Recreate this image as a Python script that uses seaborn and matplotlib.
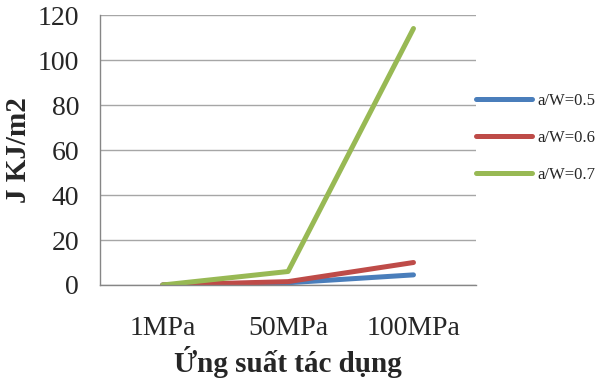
import numpy as np
import pandas as pd
import matplotlib
matplotlib.use('Agg')
import matplotlib.pyplot as plt
import seaborn as sns
from matplotlib.lines import Line2D

# data
categories = ['1MPa', '50MPa', '100MPa']
series_names = ['a/W=0.5', 'a/W=0.6', 'a/W=0.7']
aw05 = [0.0, 1.0, 4.5]
aw06 = [0.0, 1.5, 10.0]
aw07 = [0.0, 6.0, 114.0]
colors = ['#4a7ebb', '#be4b48', '#98b954']

rows = []
for name, vals in zip(series_names, [aw05, aw06, aw07]):
    for i, v in enumerate(vals):
        rows.append({'pos': i, 'J': v, 'series': name})
df = pd.DataFrame(rows)

sns.set_style('white')
plt.rcParams['font.family'] = ['Liberation Serif', 'DejaVu Serif']

fig = plt.figure(figsize=(6.02, 3.8), dpi=100)
ax = fig.add_axes([0.166, 0.25, 0.625, 0.7105])

sns.lineplot(data=df, x='pos', y='J', hue='series', hue_order=series_names,
             palette=colors, linewidth=3.6, ax=ax, legend=False,
             solid_capstyle='round')

ax.set_xlim(-0.5, 2.5)
ax.set_ylim(0, 120)
ax.set_yticks(np.arange(0, 121, 20))
ax.set_xticks(range(len(categories)))
ax.set_xticklabels(categories)
ax.set_xticks([-0.5, 0.5, 1.5, 2.5], minor=True)
ax.tick_params(axis='x', which='major', length=0, pad=22, labelsize=20)
ax.tick_params(axis='x', which='minor', length=7, color='#868686', width=1, direction='out')
ax.tick_params(axis='y', length=7, color='#868686', width=1, direction='out', labelsize=20, pad=8)
ax.yaxis.grid(True, color='#a6a6a6', linewidth=1)
ax.set_axisbelow(True)
for s in ['top', 'right']:
    ax.spines[s].set_visible(False)
for s in ['left', 'bottom']:
    ax.spines[s].set_color('#868686')
    ax.spines[s].set_linewidth(1)

ax.set_xlabel('Ứng suất tác dụng', fontsize=21, fontweight='bold', labelpad=4)
ax.set_ylabel('J KJ/m2', fontsize=21, fontweight='bold', labelpad=4)

handles = [Line2D([0], [0], color=c, linewidth=3.6, solid_capstyle='round') for c in colors]
fig.legend(handles, series_names, loc='upper left', bbox_to_anchor=(0.765, 0.795),
           frameon=False, fontsize=12, handlelength=3.4, labelspacing=1.25,
           handletextpad=0.3)

fig.savefig('out.png', dpi=100)
